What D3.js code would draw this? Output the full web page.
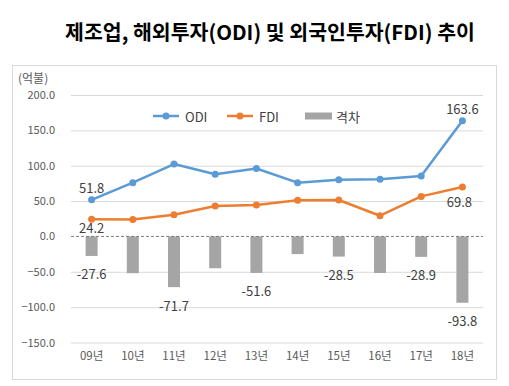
<!DOCTYPE html>
<html><head><meta charset="utf-8">
<script src="https://cdn.jsdelivr.net/npm/d3@7"></script>
<style>body{margin:0;background:#fff;}svg{display:block;}</style>
</head><body>
<svg id="c" width="509" height="386"></svg>
<script>
const categories = ["09년","10년","11년","12년","13년","14년","15년","16년","17년","18년"];
const odi = [51.8, 76.0, 102.4, 88.0, 96.0, 76.0, 80.0, 81.0, 85.5, 163.6];
const fdi = [24.2, 24.0, 30.7, 43.0, 44.4, 51.0, 51.5, 29.3, 56.6, 69.8];
const gap = [-27.6, -52.0, -71.7, -45.0, -51.6, -25.0, -28.5, -51.7, -28.9, -93.8];
const yTicks = [200, 150, 100, 50, 0, -50, -100, -150];
const odiLabelIdx = [0, 9];
const fdiLabelIdx = [0, 9];
const gapLabelIdx = [0, 2, 4, 6, 8, 9];

const svg = d3.select("#c");
const font = "'Noto Sans CJK KR','Noto Sans',sans-serif";
const x = d3.scaleBand().domain(categories).range([71, 483]).padding(0);
const y = d3.scaleLinear().domain([-150, 200]).range([342.5, 95]);
const cx = d => x(d) + x.bandwidth() / 2;

// frame
svg.append("rect").attr("x", 12.5).attr("y", 65.5).attr("width", 484).attr("height", 314)
  .attr("fill", "none").attr("stroke", "#d9d9d9");

// title
svg.append("text").attr("x", 270).attr("y", 40).attr("text-anchor", "middle")
  .attr("font-family", font).attr("font-weight", "bold").attr("font-size", 20.5).attr("fill", "#000")
  .text("제조업, 해외투자(ODI) 및 외국인투자(FDI) 추이");

// grid
const yAxis = d3.axisLeft(y).tickValues(yTicks).tickSize(-(483 - 71)).tickFormat(d => d3.format(".1f")(d));
const ga = svg.append("g").attr("transform", "translate(71,0)").call(yAxis);
ga.select(".domain").remove();
ga.selectAll(".tick line").attr("stroke", d => d === 0 ? "none" : "#d9d9d9");
ga.selectAll(".tick text").attr("x", -16).attr("fill", "#595959").attr("font-size", 11).attr("font-family", font);

// unit
svg.append("text").attr("x", 18).attr("y", 83).attr("font-family", font).attr("font-size", 12)
  .attr("fill", "#595959").text("(억불)");

// bars
const bw = 12;
svg.append("g").selectAll("rect").data(gap).join("rect")
  .attr("x", (d, i) => cx(categories[i]) - bw / 2)
  .attr("y", d => y(Math.max(0, d)))
  .attr("width", bw)
  .attr("height", d => Math.abs(y(d) - y(0)))
  .attr("fill", "#a5a5a5");

// zero line
svg.append("line").attr("x1", 71).attr("x2", 483).attr("y1", y(0)).attr("y2", y(0))
  .attr("stroke", "#7f7f7f").attr("stroke-width", 1).attr("stroke-dasharray", "3,2");

// x axis labels
const xAxis = d3.axisBottom(x).tickSize(0).tickPadding(0);
const gx = svg.append("g").attr("transform", "translate(0,352)").call(xAxis);
gx.select(".domain").remove();
gx.selectAll(".tick text").attr("fill", "#595959").attr("font-size", 11.5).attr("font-family", font);

// lines
function drawLine(vals, color) {
  const line = d3.line().x((d, i) => cx(categories[i])).y(d => y(d));
  svg.append("path").datum(vals).attr("d", line).attr("fill", "none")
    .attr("stroke", color).attr("stroke-width", 2.5).attr("stroke-linejoin", "round");
  svg.append("g").selectAll("circle").data(vals).join("circle")
    .attr("cx", (d, i) => cx(categories[i])).attr("cy", d => y(d)).attr("r", 3.5).attr("fill", color);
}
drawLine(fdi, "#ed7d31");
drawLine(odi, "#5b9bd5");

// data labels
const lab = (xx, yy, t) => svg.append("text").attr("x", xx).attr("y", yy).attr("text-anchor", "middle")
  .attr("dominant-baseline", "central").attr("font-family", font).attr("font-size", 13)
  .attr("fill", "#404040").text(t);
odiLabelIdx.forEach(i => lab(cx(categories[i]), y(odi[i]) - 12, odi[i].toFixed(1)));
lab(cx(categories[0]), y(fdi[0]) + 8, fdi[0].toFixed(1));
lab(cx(categories[9]) - 3, y(fdi[9]) + 14, fdi[9].toFixed(1));
gapLabelIdx.forEach(i => lab(cx(categories[i]), y(gap[i]) + 18, gap[i].toFixed(1)));

// legend
const lg = svg.append("g").attr("font-family", font).attr("font-size", 13).attr("fill", "#404040");
[[153, "#5b9bd5", "ODI"], [227, "#ed7d31", "FDI"]].forEach(([lx, c, t]) => {
  lg.append("line").attr("x1", lx).attr("x2", lx + 26).attr("y1", 116).attr("y2", 116).attr("stroke", c).attr("stroke-width", 2.5);
  lg.append("circle").attr("cx", lx + 13).attr("cy", 116).attr("r", 3.5).attr("fill", c);
  lg.append("text").attr("x", lx + 32).attr("y", 116).attr("dominant-baseline", "central").text(t);
});
lg.append("rect").attr("x", 305).attr("y", 112.5).attr("width", 27).attr("height", 7).attr("fill", "#a5a5a5");
lg.append("text").attr("x", 336).attr("y", 116).attr("dominant-baseline", "central").text("격차");
</script>
</body></html>
